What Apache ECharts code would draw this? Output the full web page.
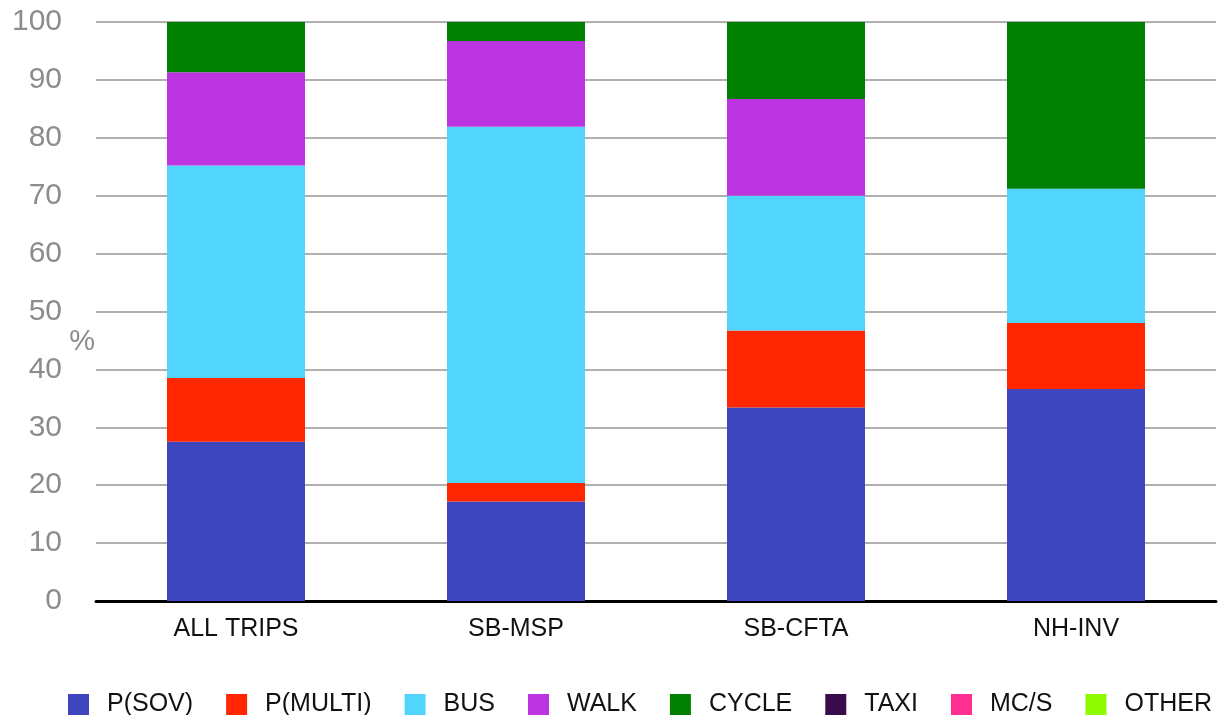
<!DOCTYPE html>
<html>
<head>
<meta charset="utf-8">
<title>Mode share by trip group</title>
<script src="https://cdn.jsdelivr.net/npm/echarts@6/dist/echarts.min.js"></script>
<style>
  html, body { margin: 0; padding: 0; background: #ffffff; }
  #chart { width: 1223px; height: 715px; }
</style>
</head>
<body>
<div id="chart"></div>
<script>
// Trip groups along the x axis
const categories = ['ALL TRIPS', 'SB-MSP', 'SB-CFTA', 'NH-INV'];

// Share of trips by mode (%), one value per trip group
const pSov   = [27.5, 17.2, 33.4, 36.6];
const pMulti = [11.0, 3.2, 13.3, 11.4];
const bus    = [36.7, 61.5, 23.3, 23.2];
const walk   = [16.1, 14.8, 16.7, 0];
const cycle  = [8.7, 3.3, 13.3, 28.8];
const taxi   = [0, 0, 0, 0];
const mcs    = [0, 0, 0, 0];
const other  = [0, 0, 0, 0];

// Y axis ticks
const yTicks = [0, 10, 20, 30, 40, 50, 60, 70, 80, 90, 100];

const modes = [
  { name: 'P(SOV)',   data: pSov,   color: '#3f46bd' },
  { name: 'P(MULTI)', data: pMulti, color: '#ff2600' },
  { name: 'BUS',      data: bus,    color: '#52d5fd' },
  { name: 'WALK',     data: walk,   color: '#bc35e0' },
  { name: 'CYCLE',    data: cycle,  color: '#017f01' },
  { name: 'TAXI',     data: taxi,   color: '#3a0c4b' },
  { name: 'MC/S',     data: mcs,    color: '#ff2f92' },
  { name: 'OTHER',    data: other,  color: '#8efa00' }
];

const FONT = '"Liberation Sans", Arial, Helvetica, sans-serif';
const AXIS_GREY = '#8c8c8c';

const chart = echarts.init(document.getElementById('chart'), null, { renderer: 'canvas' });

chart.setOption({
  animation: false,
  backgroundColor: '#ffffff',
  color: modes.map(m => m.color),
  grid: {
    left: 96, right: 7, top: 22, bottom: 114,
    containLabel: false,
    outerBoundsMode: 'none'
  },
  legend: {
    data: modes.map(m => m.name),
    left: 63,
    top: 687,
    icon: 'rect',
    itemWidth: 21,
    itemHeight: 21,
    itemGap: 33,
    textStyle: {
      fontFamily: FONT,
      fontSize: 25,
      color: '#111111',
      padding: [0, 0, 0, 13]
    }
  },
  xAxis: {
    type: 'category',
    data: categories,
    axisLine: { show: true, lineStyle: { color: '#000000', width: 3 } },
    axisTick: { show: false },
    axisLabel: {
      fontFamily: FONT,
      fontSize: 25,
      color: '#111111',
      margin: 16
    },
    splitLine: { show: false }
  },
  yAxis: {
    type: 'value',
    min: yTicks[0],
    max: yTicks[yTicks.length - 1],
    interval: yTicks[1] - yTicks[0],
    axisLine: { show: false },
    axisTick: { show: false },
    axisLabel: {
      fontFamily: FONT,
      fontSize: 30,
      color: AXIS_GREY,
      margin: 34
    },
    splitLine: { show: true, lineStyle: { color: '#b0b0b0', width: 2 } }
  },
  series: modes.map(m => ({
    name: m.name,
    type: 'bar',
    stack: 'share',
    barWidth: 138,
    data: m.data,
    itemStyle: { color: m.color },
    emphasis: { disabled: true }
  }))
});

// Unit label for the value axis, set beside the axis between the 40 and 50 ticks
const unitY = chart.convertToPixel({ yAxisIndex: 0 }, 45);
chart.setOption({
  graphic: [{
    type: 'text',
    x: 95,
    y: unitY + 2,
    style: {
      text: '%',
      font: '29px ' + FONT,
      fill: AXIS_GREY,
      align: 'right',
      verticalAlign: 'middle'
    }
  }]
});
</script>
</body>
</html>
